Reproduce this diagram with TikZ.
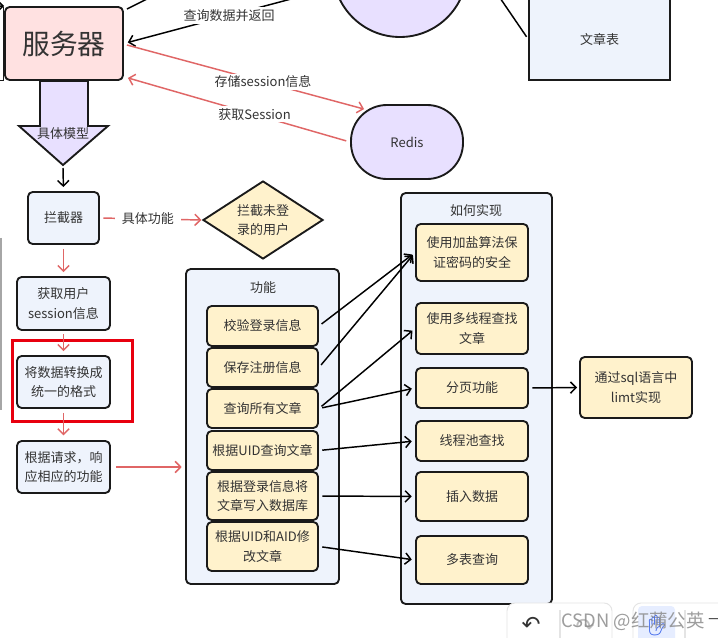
\documentclass[tikz,border=0pt]{standalone}
\usepackage{fontspec}
\setmainfont{Noto Sans CJK SC}
\newfontfamily\dejavu{DejaVu Sans}
\newfontfamily\emojif{Noto Emoji}
\usetikzlibrary{arrows.meta,shapes.geometric,calc}
\definecolor{txt}{HTML}{333333}
\definecolor{pinkf}{HTML}{FFE1E1}
\definecolor{lavf}{HTML}{E8E0FF}
\definecolor{bluef}{HTML}{EEF3FC}
\definecolor{yelf}{HTML}{FFF2CC}
\definecolor{redl}{HTML}{E06666}
\definecolor{hlred}{HTML}{E8000F}
\definecolor{edge}{HTML}{1A1A1A}
\definecolor{tbgray}{HTML}{E4E4E4}
\definecolor{handblue}{HTML}{2F5BEA}
\definecolor{handbg}{HTML}{E6EDFF}
\newcommand\mybox[7]{\node[#6, minimum width={(#4-#2)*0.75pt}, minimum height={(#5-#3)*0.75pt}] (#1) at ({(#2+#4)/2},{(#3+#5)/2}) {#7};}
\begin{document}
\begin{tikzpicture}[x=0.75pt,y=-0.75pt,
  base/.style={draw=edge, line width=1.4pt, rounded corners=3.5pt, align=center, inner sep=1pt, text=txt, font=\fontsize{9.75}{14.5}\selectfont},
  bluebox/.style={base, fill=bluef},
  yelbox/.style={base, fill=yelf},
  lavbox/.style={base, fill=lavf},
  arr/.style={draw=black, line width=1.1pt, -{Straight Barb[length=4.2pt,width=8.5pt]}},
  redarr/.style={draw=redl, line width=1.1pt, -{Straight Barb[length=4.2pt,width=8.5pt]}},
  lbl/.style={fill=white, text=txt, inner sep=1.5pt, font=\fontsize{9.75}{14.5}\selectfont},
  ttl/.style={text=txt, inner sep=1pt, font=\fontsize{9.75}{14.5}\selectfont},
  tbbox/.style={draw=tbgray, fill=white, line width=0.7pt, rounded corners=6pt},
]
\useasboundingbox (0,0) rectangle (718,638);
\clip (0,0) rectangle (718,638);
\fill[white] (0,0) rectangle (718,638);

% top partial shapes
\node[circle, draw=edge, fill=lavf, line width=1.4pt, minimum size={134*0.75pt}, inner sep=0pt] (db) at (400,-30) {};
\mybox{wz}{529}{-2}{670}{80}{bluebox, sharp corners}{文章表}

% server
\mybox{svc}{5}{7}{123}{80}{base, fill=pinkf, font=\fontsize{20.8}{24}\selectfont}{服务器}
\draw[line width=1.2pt, edge] (-5,80.5) -- (3.5,80.5) -- (3.5,7);
\coordinate (lin) at (-12,6);
\draw[arr] (lin) -- (svc.north west);

% redis
\mybox{redis}{351}{105}{463}{179}{lavbox, rounded corners=27pt}{Redis}

% connectors at top
\coordinate (up) at (205,-30);
\draw[arr, -] ($(svc.north east)+(3,3)$) -- (up);
\draw[arr, shorten >=3pt] (db) -- node[lbl, pos=0.5]{查询数据并返回} (svc.east);
\draw[arr, shorten <=2pt] (wz.west) -- (db.24);
\draw[redarr] ($(svc.east)+(3,1.5)$) -- node[lbl, pos=0.574]{存储session信息} ($(redis.north west)+(14,5)$);
\draw[redarr, shorten <=3pt] (redis.west) -- node[lbl, pos=0.43]{获取Session} ($(svc.south east)+(4,-3)$);

% block arrow
\draw[edge, line width=1.4pt, fill=lavf, line join=miter] (40,81) -- (88,81) -- (88,126) -- (108,126) -- (63,165) -- (19,126) -- (40,126) -- cycle;
\node[ttl] (model) at (63,134) {具体模型};
\coordinate (bt) at (63,168);

% left column
\mybox{lj}{28}{192}{99}{244}{bluebox}{拦截器}
\mybox{gs}{17}{277}{110}{330}{bluebox}{获取用户\\session信息}
\mybox{zh}{17}{356}{110}{408}{bluebox}{将数据转换成\\统一的格式}
\mybox{gj}{17}{441}{110}{493}{bluebox}{根据请求，响\\应相应的功能}
\draw[hlred, line width=2.4pt] (12.5,340.5) rectangle (132.5,421.5);
\draw[gray!70, line width=0.8pt] (1,238) -- (1,410);

\node[diamond, draw=edge, fill=yelf, line width=1.4pt, aspect=1.54, minimum width={120*0.75pt}, minimum height={78*0.75pt}, inner sep=0pt, align=center, text=txt, font=\fontsize{9.75}{14}\selectfont] (dm) at (263,220) {拦截未登\\录的用户};

\draw[arr, shorten >=3pt] (bt) -- (lj.north);
\draw[redarr, shorten <=2.5pt, shorten >=0.5pt] (lj.east) -- node[lbl, pos=0.47, inner xsep=5pt]{具体功能} (dm.west);
\draw[redarr, shorten <=3pt, shorten >=3pt] (lj.south) -- (gs.north);
\draw[redarr, shorten <=2.5pt, shorten >=3pt] (gs.south) -- (zh.north);
\draw[redarr, shorten <=3pt, shorten >=3.5pt] (zh.south) -- (gj.north);

% function container
\mybox{func}{186}{269}{339}{584}{bluebox}{}
\node[ttl] (functtl) at (263,288) {功能};
\mybox{f1}{207}{306}{318}{346}{yelbox}{校验登录信息}
\mybox{f2}{207}{348}{318}{387}{yelbox}{保存注册信息}
\mybox{f3}{207}{389}{318}{428}{yelbox}{查询所有文章}
\mybox{f4}{207}{431}{318}{470}{yelbox}{根据UID查询文章}
\mybox{f5}{207}{472}{318}{520}{yelbox}{根据登录信息将\\文章写入数据库}
\mybox{f6}{207}{522}{318}{571}{yelbox}{根据UID和AID修\\改文章}
\draw[redarr, shorten <=4pt, shorten >=2.5pt] (gj.east) -- (func.west |- gj.east);

% how container
\mybox{how}{401}{193}{552}{604}{bluebox}{}
\node[ttl] (howttl) at (476,211) {如何实现};
\mybox{h1}{416}{224}{528}{281}{yelbox}{使用加盐算法保\\证密码的安全}
\mybox{h2}{416}{303}{528}{354}{yelbox}{使用多线程查找\\文章}
\mybox{h3}{416}{368}{528}{408}{yelbox}{分页功能}
\mybox{h4}{416}{421}{528}{461}{yelbox}{线程池查找}
\mybox{h5}{416}{472}{528}{521}{yelbox}{插入数据}
\mybox{h6}{416}{536}{528}{584}{yelbox}{多表查询}
\mybox{sq}{580}{357}{692}{418}{yelbox}{通过sql语言中\\limt实现}

\begin{scope}[shorten <=2.5pt, shorten >=2.5pt]
\draw[arr] (f1.east) -- (h1.west);
\draw[arr] (f2.east) -- (h1.west);
\draw[arr] (f3.east) -- (h2.west);
\draw[arr] (f3.east) -- (h3.west);
\draw[arr] (f4.east) -- (h4.west);
\draw[arr] (f5.east) -- (h5.west);
\draw[arr] (f6.east) -- (h6.west);
\end{scope}
\draw[arr, shorten <=2.5pt, shorten >=1.5pt] (h3.east) -- (sq.west);

% toolbar overlay
\draw[tbbox] (507,603) rectangle (612,650);
\draw[tbbox] (633,603) rectangle (740,650);
\fill[handbg, rounded corners=3pt] (638,606) rectangle (675,650);
\draw[tbgray, line width=0.8pt] (560,610) -- (560,640);
\draw[tbgray, line width=0.8pt] (685,610) -- (685,640);
\node[text=black!80, font=\dejavu\fontsize{17}{17}\selectfont, inner sep=0pt] (undo) at (531,625) {↶};
\node[text=black!25, font=\dejavu\fontsize{17}{17}\selectfont, inner sep=0pt] (redo) at (585,627) {↷};
\node[text=handblue, font=\emojif\fontsize{15}{15}\selectfont, inner sep=0pt] (hand) at (657,626) {✋};
\node[text=black!70, font=\dejavu\fontsize{12}{12}\selectfont, inner sep=0pt] (dash) at (716,621) {—};
\node[text=black!45, opacity=0.85, font=\fontsize{13.8}{16}\selectfont, inner sep=0pt] (wm) at (633,621) {CSDN @红蒲公英};
\end{tikzpicture}
\end{document}
